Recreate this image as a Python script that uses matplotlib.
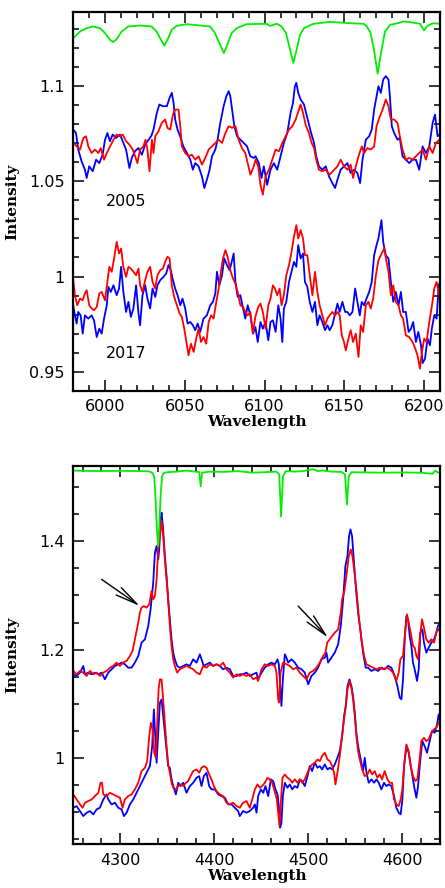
import matplotlib
matplotlib.use('Agg')
import matplotlib.pyplot as plt
from matplotlib.ticker import MultipleLocator, FormatStrFormatter

# ---------------- red region, 5980-6210 A ----------------
tell_red = [(5980, 1.1253), (5984.2, 1.1287), (5988.4, 1.1305), (5992.5, 1.1314), (5996.7, 1.1305),
            (5999.9, 1.1279), (6003, 1.1244), (6005.1, 1.1232), (6007.2, 1.1247), (6010.3, 1.1287),
            (6014.5, 1.1314), (6021.8, 1.1319), (6029.1, 1.1314), (6032.3, 1.1287), (6034.4, 1.1253),
            (6037.1, 1.1213), (6039.6, 1.1253), (6041.7, 1.1296), (6044.8, 1.1317), (6051.1, 1.1326),
            (6065.7, 1.1314), (6068.9, 1.1279), (6071.6, 1.1226), (6074.5, 1.1174), (6076.6, 1.1218),
            (6079.3, 1.1279), (6082.5, 1.1305), (6088.7, 1.1326), (6101.3, 1.1328), (6103.4, 1.1317),
            (6107.6, 1.1328), (6110.7, 1.1314), (6113.4, 1.1279), (6115.5, 1.1209), (6118, 1.1122),
            (6120.1, 1.1192), (6122.2, 1.127), (6124.7, 1.1305), (6130.6, 1.1328), (6141, 1.1338),
            (6153.6, 1.1331), (6161.9, 1.1328), (6164, 1.1317), (6166.5, 1.1279), (6168.6, 1.1192),
            (6170.9, 1.1066), (6173, 1.1174), (6175.5, 1.1287), (6178.6, 1.1322), (6184.9, 1.1334),
            (6187, 1.1341), (6193.3, 1.1334), (6197.5, 1.1328), (6200, 1.1293), (6202.1, 1.1317),
            (6205.8, 1.1331), (6210, 1.1328)]

blue_2005 = [(5980, 1.0772), (5981.7, 1.0754), (5983.1, 1.0667), (5985.2, 1.0605), (5987.3, 1.0561),
             (5988.4, 1.0518), (5990, 1.0579), (5992.2, 1.0553), (5994.3, 1.0614), (5996.3, 1.0596),
             (5998.4, 1.064), (5999.9, 1.0719), (6001.4, 1.0754), (6003, 1.0711), (6004.7, 1.0746),
             (6006.8, 1.0728), (6009.3, 1.0746), (6011.4, 1.0702), (6013.1, 1.0667), (6015.2, 1.0570),
             (6016.7, 1.0623), (6018.8, 1.066), (6020.9, 1.0675), (6023, 1.064), (6025.1, 1.0693),
             (6027.3, 1.0719), (6029, 1.074), (6030.3, 1.0772), (6032.4, 1.086), (6034, 1.0904),
             (6036.1, 1.0895), (6038.7, 1.0895), (6040.4, 1.0939), (6041.8, 1.0965), (6042.9, 1.0912),
             (6043.9, 1.0825), (6045.4, 1.0772), (6047, 1.0737), (6049, 1.0684), (6051.3, 1.0649),
             (6053.4, 1.0614), (6055, 1.0561), (6056.5, 1.0596), (6058.6, 1.0579), (6060.7, 1.0526),
             (6062.2, 1.0465), (6063.8, 1.0509), (6065.5, 1.0561), (6067, 1.0632), (6069.1, 1.0667),
             (6070.5, 1.0719), (6072.2, 1.0807), (6074.3, 1.0895), (6076, 1.0947), (6077.5, 1.0974),
             (6078.5, 1.0947), (6079.6, 1.0877), (6081, 1.079), (6082.7, 1.0737), (6084.8, 1.0719),
             (6086.9, 1.0702), (6089, 1.0684), (6091, 1.0632), (6093.2, 1.0623), (6094.3, 1.0632),
             (6096.4, 1.0596), (6098.1, 1.0518), (6099.5, 1.0579), (6101.6, 1.0482), (6103.7, 1.0561),
             (6105.8, 1.0596), (6107.9, 1.0561), (6110, 1.0632), (6112.1, 1.0702), (6114.2, 1.0754),
             (6116.3, 1.086), (6117.8, 1.0912), (6119, 1.1), (6119.9, 1.1018), (6121.1, 1.0965),
             (6122.6, 1.093), (6124.7, 1.0904), (6126.8, 1.0833), (6128.9, 1.0763), (6131, 1.0702),
             (6132.4, 1.0632), (6134.1, 1.0579), (6136.2, 1.0561), (6138.3, 1.0579), (6140.4, 1.0526),
             (6142.5, 1.0491), (6144.2, 1.0465), (6145.7, 1.0509), (6147.7, 1.0561), (6149.8, 1.0579),
             (6151.9, 1.0596), (6154, 1.0544), (6156.1, 1.0561), (6158.2, 1.0544), (6159.9, 1.0491),
             (6161.4, 1.0614), (6163.5, 1.0719), (6165.6, 1.0737), (6167.2, 1.0772), (6168.7, 1.0877),
             (6170.2, 1.0947), (6171.4, 1.1), (6172.9, 1.0965), (6174.4, 1.1035), (6176, 1.1053),
             (6177.7, 1.1035), (6178.6, 1.0947), (6179.8, 1.0789), (6181.3, 1.0754), (6183.4, 1.0719),
             (6184.8, 1.0728), (6186.5, 1.0632), (6188.6, 1.0614), (6190.7, 1.0596), (6192.8, 1.0614),
             (6194.9, 1.0614), (6197, 1.0561), (6199.1, 1.0684), (6201.2, 1.0649), (6203.3, 1.0684),
             (6205.4, 1.0807), (6206.9, 1.0851), (6208.5, 1.0737), (6210.6, 1.0754)]

red_2005 = [(5980, 1.0702), (5982.1, 1.0684), (5984.2, 1.0667), (5986.3, 1.0728), (5988, 1.0737),
            (5989.4, 1.0684), (5991.5, 1.0649), (5993.6, 1.0667), (5995.7, 1.0649), (5997.2, 1.0675),
            (5999.3, 1.0614), (6001, 1.0649), (6003.1, 1.0684), (6005.2, 1.0719), (6007.2, 1.0746),
            (6009.3, 1.0737), (6011, 1.0746), (6013.1, 1.0711), (6015.2, 1.0693), (6017.3, 1.0667),
            (6018.8, 1.0632), (6020.2, 1.0596), (6021.9, 1.0667), (6024, 1.0684), (6025.3, 1.0719),
            (6026.5, 1.0667), (6027.8, 1.0553), (6029.3, 1.0719), (6030.3, 1.0649), (6031.4, 1.0737),
            (6033.4, 1.0763), (6035.5, 1.0807), (6037.6, 1.0825), (6039.1, 1.0781), (6040.8, 1.0772),
            (6042.5, 1.0851), (6043.9, 1.0877), (6046, 1.0877), (6047.1, 1.079), (6048.1, 1.0684),
            (6050.2, 1.0649), (6052.3, 1.0632), (6054.4, 1.064), (6056.5, 1.0614), (6058.6, 1.0632),
            (6060.7, 1.0588), (6062.8, 1.0623), (6064.9, 1.0667), (6067, 1.0684), (6069.1, 1.0702),
            (6071.2, 1.0719), (6073.3, 1.0702), (6075.4, 1.0754), (6077.5, 1.079), (6079.6, 1.0781),
            (6081.7, 1.079), (6083.7, 1.0719), (6085.8, 1.0675), (6087.9, 1.0649), (6089.4, 1.0596),
            (6091.1, 1.0535), (6093.2, 1.0579), (6094.3, 1.0614), (6096, 1.0579), (6097.4, 1.0482),
            (6098.9, 1.043), (6100.6, 1.0526), (6102.7, 1.0561), (6104.8, 1.0614), (6106.9, 1.0667),
            (6109, 1.0658), (6111.1, 1.0702), (6113.2, 1.0737), (6115.3, 1.0772), (6117.4, 1.079),
            (6119.5, 1.0825), (6121.5, 1.0877), (6122.6, 1.0904), (6124.1, 1.086), (6125.7, 1.0798),
            (6127.8, 1.0754), (6129.5, 1.0702), (6131, 1.0675), (6132.4, 1.0614), (6134.1, 1.0561),
            (6136.2, 1.0553), (6138.3, 1.0561), (6140.8, 1.0535), (6143.6, 1.0561), (6145.7, 1.0579),
            (6147.7, 1.0614), (6149.8, 1.0579), (6151.9, 1.0561), (6154, 1.0588), (6155.5, 1.0518),
            (6157.2, 1.0579), (6158.9, 1.0632), (6161, 1.0684), (6162.4, 1.0649), (6164.5, 1.0675),
            (6166.6, 1.0667), (6168.7, 1.0684), (6170.2, 1.0789), (6171.9, 1.0833), (6174, 1.0877),
            (6176, 1.093), (6177.7, 1.0895), (6179.2, 1.0825), (6181.3, 1.0825), (6183.4, 1.0807),
            (6184.8, 1.0737), (6186.5, 1.0667), (6188.6, 1.0614), (6190.7, 1.0623), (6192.8, 1.0614),
            (6194.9, 1.0632), (6197, 1.0649), (6199.1, 1.0667), (6201.2, 1.0614), (6203.3, 1.0684),
            (6205.4, 1.0649), (6207.5, 1.0702), (6209.6, 1.0719)]

blue_2017 = [(5980, 0.9849), (5981, 0.9796), (5982.1, 0.9753), (5983.1, 0.9814), (5984.6, 0.9796),
             (5985.9, 0.97), (5987.3, 0.9796), (5989.4, 0.9779), (5991.5, 0.9796), (5993, 0.977),
             (5994.7, 0.9682), (5996.3, 0.9726), (5997.8, 0.97), (5999.3, 0.9779), (6001, 0.9849),
             (6002, 0.9946), (6003.5, 0.9919), (6005.2, 0.9954), (6007.2, 0.9902), (6008.7, 0.9937),
             (6010, 1.0051), (6011.4, 0.9919), (6013.1, 0.9814), (6014.6, 0.9867), (6016.1, 0.9788),
             (6017.7, 0.9832), (6019.4, 0.9954), (6020.9, 0.9805), (6021.9, 0.9744), (6023.4, 0.9902),
             (6025.1, 0.9954), (6026.5, 0.9884), (6028.2, 0.9832), (6029.7, 0.9937), (6031.4, 0.9893),
             (6032.8, 0.9954), (6034.5, 0.9981), (6036.6, 0.9998), (6038.3, 1.0016), (6039.7, 1.006),
             (6041.2, 1.0033), (6042.5, 0.9981), (6043.9, 0.9937), (6045.4, 0.9902), (6047.1, 0.9849),
             (6048.5, 0.9884), (6050.2, 0.9832), (6051.7, 0.9753), (6053.4, 0.9761), (6055, 0.9744),
             (6056.5, 0.9718), (6058, 0.9753), (6059.6, 0.9709), (6061.7, 0.9779), (6063.8, 0.9796),
             (6065.9, 0.9849), (6067.6, 0.9867), (6069.1, 0.9911), (6070.1, 1.0025), (6071.6, 0.9954),
             (6073.3, 1.0007), (6074.7, 1.0095), (6076.4, 1.006), (6078.1, 1.0033), (6079.6, 1.0086),
             (6080.6, 1.0121), (6081.7, 0.9972), (6083.1, 0.9893), (6084.8, 0.9902), (6086.5, 0.9832),
             (6087.9, 0.9779), (6089.4, 0.9849), (6091.1, 0.9796), (6092.8, 0.97), (6094.2, 0.9735),
             (6095.7, 0.9656), (6097.4, 0.9761), (6098.9, 0.9726), (6100.6, 0.9761), (6102.3, 0.9665),
             (6103.7, 0.9761), (6105.2, 0.977), (6106.9, 0.9709), (6108.6, 0.9849), (6110, 0.9779),
             (6111.1, 0.9656), (6112.1, 0.9832), (6113.6, 0.9867), (6115.3, 0.9972), (6116.9, 1.0025),
             (6118.4, 1.0077), (6119.9, 1.0051), (6121.1, 1.0165), (6122.6, 1.0095), (6124.1, 1.0121),
             (6125.3, 0.9972), (6126.8, 0.9946), (6128.3, 0.9867), (6130, 0.9814), (6131.6, 0.9867),
             (6133.1, 0.9744), (6134.5, 0.9796), (6136.2, 0.9761), (6137.9, 0.9718), (6139.4, 0.9744),
             (6140.8, 0.9718), (6142.5, 0.9744), (6144.2, 0.9805), (6145.7, 0.9858), (6147.1, 0.9814),
             (6148.8, 0.9867), (6150.5, 0.9814), (6151.9, 0.9814), (6153.4, 0.9796), (6155.1, 0.9814),
             (6156.8, 0.9937), (6158.2, 0.9867), (6159.7, 0.9796), (6160.9, 0.9867), (6162.4, 0.9849),
             (6163.9, 0.9884), (6165.6, 0.9919), (6167.2, 0.9972), (6168.7, 1.0112), (6170.2, 1.0165),
             (6171.4, 1.02), (6172.3, 1.0244), (6173.3, 1.0296), (6174.4, 1.0182), (6176, 1.0112),
             (6177.7, 1.0095), (6179.2, 0.9972), (6180.7, 0.9867), (6182.3, 0.9919), (6184, 0.9849),
             (6185.5, 0.9919), (6186.9, 0.9814), (6188.6, 0.9814), (6190.3, 0.9709), (6191.8, 0.9726),
             (6193.2, 0.9761), (6194.9, 0.9656), (6196.4, 0.9709), (6198.1, 0.9639), (6199.1, 0.9545),
             (6200.6, 0.9568), (6202.2, 0.9674), (6203.7, 0.9639), (6204.9, 0.9726), (6206.4, 0.9796),
             (6207.9, 0.9779), (6209.2, 0.9954), (6210.6, 0.9981)]

red_2017 = [(5980, 0.9981), (5981, 0.9902), (5982.5, 0.9849), (5984.2, 0.9884), (5985.9, 0.9875),
            (5987.3, 0.9911), (5988.4, 0.9928), (5990, 0.9849), (5991.5, 0.9832), (5993, 0.9823),
            (5994.7, 0.984), (5996.3, 0.9911), (5997.8, 0.9919), (5999.9, 0.9875), (6001.4, 0.9972),
            (6002.6, 1.0051), (6004.1, 1.0025), (6005.6, 1.0095), (6007.2, 1.0182), (6008.7, 1.0121),
            (6010, 1.0147), (6011.4, 1.0051), (6013.1, 0.9998), (6014.6, 1.0051), (6016.1, 1.0042),
            (6017.7, 1.0025), (6019.4, 1.0007), (6020.9, 1.0042), (6021.9, 0.9954), (6023.4, 0.9919),
            (6025.1, 0.9981), (6026.5, 1.0025), (6028.2, 1.0051), (6029.7, 0.9972), (6031.4, 0.9937),
            (6032.8, 1.0007), (6034.5, 1.0033), (6036.2, 1.0042), (6037.6, 1.0077), (6039.1, 1.0104),
            (6040.4, 1.0095), (6041.8, 0.9954), (6043.3, 0.9893), (6045, 0.9849), (6046.7, 0.9805),
            (6048.1, 0.9788), (6049.6, 0.9726), (6051.3, 0.9639), (6052.3, 0.9586), (6053.8, 0.9647),
            (6055.5, 0.9604), (6057.1, 0.9674), (6058.6, 0.9726), (6060.1, 0.9656), (6061.7, 0.9682),
            (6063.4, 0.9647), (6064.9, 0.9761), (6066.4, 0.9796), (6068, 0.9779), (6069.7, 0.9867),
            (6071.2, 0.9937), (6072.6, 1.0025), (6073.9, 1.0095), (6075.4, 1.0139), (6076.8, 1.0104),
            (6078.5, 1.0033), (6080.2, 0.9989), (6081.7, 0.9963), (6083.1, 0.9919), (6084.8, 0.9849),
            (6086.5, 0.984), (6087.9, 0.9814), (6089.4, 0.9796), (6091.1, 0.9814), (6092.6, 0.97),
            (6094.2, 0.9788), (6096, 0.984), (6097.4, 0.9858), (6098.9, 0.9814), (6100.6, 0.9726),
            (6102.3, 0.9849), (6103.7, 0.9884), (6105.2, 0.9954), (6106.5, 0.9937), (6107.9, 0.9902),
            (6109.4, 0.9937), (6110.6, 0.9849), (6112.1, 0.9902), (6113.6, 1.0007), (6115.3, 1.006),
            (6116.9, 1.013), (6118.4, 1.0209), (6119.9, 1.027), (6121.1, 1.02), (6122.6, 1.0244),
            (6124.1, 1.02), (6125.3, 1.0112), (6126.8, 1.0112), (6128.3, 1.0007), (6130, 0.9902),
            (6131.6, 1.0025), (6133.1, 0.9919), (6134.5, 0.9849), (6136.2, 0.9796), (6137.9, 0.9744),
            (6139.4, 0.9779), (6140.8, 0.9796), (6142.5, 0.9814), (6144.2, 0.9796), (6145.7, 0.9814),
            (6147.1, 0.9796), (6148.4, 0.9691), (6149.8, 0.9656), (6150.9, 0.9612), (6152.6, 0.9674),
            (6154, 0.9718), (6155.5, 0.9656), (6157.2, 0.97), (6158.9, 0.9577), (6160.3, 0.9744),
            (6161.8, 0.9709), (6163.5, 0.9849), (6165.1, 0.9867), (6166.6, 0.9832), (6168.1, 0.9884),
            (6169.8, 1.0007), (6171.4, 1.0086), (6172.9, 1.0112), (6175, 1.0147), (6176.5, 1.0077),
            (6177.7, 1.0025), (6179.2, 0.9902), (6180.7, 0.9954), (6182.3, 0.9867), (6184, 0.9849),
            (6185.5, 0.9796), (6186.9, 0.9779), (6188.6, 0.9691), (6190.7, 0.9682), (6192.8, 0.9656),
            (6194.5, 0.9621), (6195.9, 0.9586), (6197.4, 0.9516), (6198.7, 0.9604), (6200.1, 0.9674),
            (6201.6, 0.9656), (6203.3, 0.9761), (6205, 0.9849), (6206.4, 0.9937), (6207.9, 0.9972),
            (6209.2, 0.9919), (6210.6, 0.9814)]

# ---------------- blue region, 4250-4640 A ----------------
tell_blue = [(4250, 1.531), (4260, 1.5305), (4280, 1.530), (4300, 1.5305), (4320, 1.530),
             (4330, 1.5295), (4334, 1.527), (4336, 1.52), (4337.5, 1.48), (4339, 1.42),
             (4340.3, 1.391), (4341.5, 1.43), (4343, 1.49), (4344.5, 1.52), (4346, 1.526),
             (4350, 1.528), (4360, 1.529), (4370, 1.531), (4380, 1.529), (4384, 1.528),
             (4385.5, 1.502), (4387, 1.527), (4395, 1.529), (4410, 1.5285), (4425, 1.530),
             (4440, 1.527), (4455, 1.528), (4466, 1.529), (4469, 1.524), (4471, 1.446),
             (4473, 1.52), (4476, 1.530), (4485, 1.529), (4495, 1.530), (4500, 1.532),
             (4505, 1.5335), (4510, 1.530), (4515, 1.531), (4525, 1.529), (4535, 1.5285),
             (4539, 1.524), (4541, 1.468), (4543, 1.52), (4546, 1.528), (4560, 1.5275),
             (4580, 1.527), (4600, 1.5275), (4620, 1.527), (4632, 1.525), (4635, 1.531),
             (4638, 1.527), (4640, 1.528)]

blue_hi = [(4250, 1.1543), (4253.5, 1.1512), (4257.1, 1.1574), (4260.6, 1.1697), (4262.4, 1.1543),
           (4265.9, 1.1574), (4269.5, 1.1543), (4273, 1.1574), (4276.6, 1.1543), (4280.1, 1.1574),
           (4283.6, 1.1451), (4287.2, 1.1574), (4290.7, 1.1636), (4294.3, 1.1697), (4297.8, 1.1728),
           (4301.4, 1.1759), (4304.9, 1.1728), (4308.4, 1.1666), (4312, 1.1666), (4315.5, 1.1759),
           (4319.1, 1.1882), (4322.6, 1.2128), (4326.2, 1.219), (4329.7, 1.2436), (4332.2, 1.2744),
           (4335, 1.3236), (4336.8, 1.3791), (4338.6, 1.3914), (4340.3, 1.3667), (4341.4, 1.3852),
           (4342.8, 1.4406), (4343.9, 1.453), (4345.6, 1.4222), (4347.4, 1.3729), (4349.2, 1.336),
           (4350.9, 1.2929), (4352.7, 1.2559), (4354.5, 1.219), (4356.3, 1.1943), (4358, 1.182),
           (4360.5, 1.1697), (4363.3, 1.1666), (4366.9, 1.1697), (4370.4, 1.1728), (4374, 1.1697),
           (4377.5, 1.182), (4381.1, 1.1759), (4384.6, 1.1913), (4386.4, 1.182), (4388.8, 1.1697),
           (4391.7, 1.1728), (4395.2, 1.1759), (4398.8, 1.1697), (4402.3, 1.1728), (4405.8, 1.1697),
           (4409.4, 1.1636), (4412.9, 1.1666), (4416.5, 1.1636), (4420, 1.1512), (4423.6, 1.1512),
           (4427.1, 1.1543), (4430.6, 1.1543), (4434.2, 1.1574), (4437.7, 1.1512), (4441.3, 1.1543),
           (4444.8, 1.1574), (4446.6, 1.1451), (4450.2, 1.1574), (4453.7, 1.1666), (4457.3, 1.1728),
           (4460.8, 1.1759), (4464.4, 1.1728), (4467.2, 1.182), (4468.6, 1.1728), (4470, 1.1328),
           (4471.4, 1.0958), (4472.9, 1.1451), (4475, 1.1913), (4476.7, 1.1851), (4478.5, 1.1759),
           (4482.1, 1.182), (4485.6, 1.1759), (4489.1, 1.1666), (4492.7, 1.1636), (4496.2, 1.1574),
           (4499.8, 1.1358), (4503.3, 1.1512), (4506.9, 1.1574), (4510.4, 1.1666), (4513.9, 1.182),
           (4517.5, 1.1851), (4519.3, 1.1943), (4521, 1.1759), (4524.6, 1.1851), (4528.1, 1.1943),
           (4531.7, 1.2097), (4534.5, 1.2436), (4537, 1.2929), (4539.4, 1.3544), (4541.6, 1.3729),
           (4543.3, 1.4099), (4544.8, 1.4222), (4546.5, 1.4099), (4548.3, 1.3667), (4550.4, 1.3175),
           (4552.9, 1.2682), (4555.7, 1.2313), (4558.2, 1.1943), (4561, 1.1666), (4563.5, 1.1666),
           (4567.1, 1.1605), (4570.6, 1.1636), (4574.2, 1.1605), (4577.7, 1.1666), (4581.2, 1.1636),
           (4584.8, 1.1697), (4588.3, 1.1666), (4591.9, 1.1512), (4594.7, 1.1328), (4597.2, 1.1112),
           (4599, 1.1081), (4600.7, 1.1451), (4602.5, 1.219), (4604.3, 1.2621), (4606, 1.256),
           (4607.8, 1.2251), (4609.6, 1.2067), (4611.3, 1.1759), (4613.1, 1.1636), (4615.6, 1.142),
           (4617.4, 1.1636), (4619.1, 1.2313), (4621.3, 1.2374), (4623, 1.2128), (4625.5, 1.1943),
           (4628, 1.2036), (4630.8, 1.2128), (4633.7, 1.219), (4636.1, 1.2313), (4637.9, 1.2436),
           (4639.7, 1.2498)]

red_hi = [(4250, 1.1605), (4253.5, 1.1543), (4257.1, 1.1605), (4260.6, 1.1574), (4264.2, 1.1512),
          (4267.7, 1.1605), (4271.3, 1.1543), (4274.8, 1.1574), (4278.3, 1.1512), (4281.9, 1.1574),
          (4285.4, 1.1605), (4289, 1.1666), (4292.5, 1.1697), (4296, 1.1759), (4299.6, 1.1697),
          (4303.1, 1.1759), (4306.7, 1.179), (4310.2, 1.1882), (4313, 1.1974), (4315.5, 1.219),
          (4317.3, 1.2344), (4319.1, 1.2498), (4320.8, 1.2682), (4322.6, 1.2775), (4325.1, 1.2805),
          (4327.9, 1.2775), (4330.8, 1.2836), (4333.2, 1.3083), (4335, 1.2929), (4336.8, 1.299),
          (4338.6, 1.3298), (4340.3, 1.3852), (4342.1, 1.4099), (4343.9, 1.4376), (4345.6, 1.4099),
          (4347.4, 1.3667), (4349.2, 1.3298), (4350.9, 1.2929), (4352.7, 1.2436), (4354.5, 1.2067),
          (4356.3, 1.182), (4358, 1.1697), (4360.5, 1.1574), (4363.3, 1.1636), (4366.9, 1.1666),
          (4370.4, 1.1697), (4374, 1.1666), (4377.5, 1.1636), (4381.1, 1.1574), (4384.6, 1.1543),
          (4388.1, 1.1697), (4391.7, 1.1666), (4395.2, 1.1728), (4398.8, 1.1697), (4402.3, 1.1728),
          (4405.8, 1.1697), (4409.4, 1.1759), (4412.9, 1.1636), (4416.5, 1.1574), (4420, 1.1482),
          (4423.6, 1.1543), (4427.1, 1.1512), (4430.6, 1.1543), (4434.2, 1.1512), (4437.7, 1.1543),
          (4441.3, 1.1451), (4444.8, 1.1482), (4446.6, 1.142), (4450.2, 1.1636), (4453.7, 1.1728),
          (4457.3, 1.1697), (4460.8, 1.1728), (4464.4, 1.1697), (4466.1, 1.1574), (4467.9, 1.1081),
          (4469, 1.102), (4470.4, 1.1574), (4473.2, 1.1759), (4476.7, 1.1728), (4480.3, 1.1697),
          (4483.8, 1.1636), (4487.4, 1.1666), (4490.9, 1.1574), (4494.5, 1.1512), (4498, 1.1451),
          (4501.5, 1.1574), (4505.1, 1.1605), (4508.6, 1.1666), (4512.2, 1.1759), (4515.7, 1.1882),
          (4518.2, 1.1943), (4520, 1.2128), (4522.8, 1.219), (4525.3, 1.2251), (4528.1, 1.2313),
          (4531.7, 1.2374), (4534.5, 1.2682), (4535.9, 1.2929), (4538, 1.3052), (4540.5, 1.336),
          (4543, 1.3729), (4545.1, 1.3852), (4546.9, 1.3729), (4548.7, 1.3483), (4551.1, 1.3113),
          (4553.6, 1.2621), (4556.4, 1.219), (4559.3, 1.1882), (4561.8, 1.1728), (4565.3, 1.1697),
          (4568.8, 1.1666), (4572.4, 1.1636), (4575.9, 1.1666), (4579.5, 1.1636), (4583, 1.1666),
          (4586.6, 1.1636), (4590.1, 1.1574), (4593.6, 1.142), (4596.1, 1.1574), (4597.9, 1.182),
          (4600.7, 1.1882), (4603.2, 1.2374), (4605, 1.2651), (4606.7, 1.2498), (4608.9, 1.2313),
          (4611.3, 1.2067), (4613.1, 1.2036), (4614.9, 1.1882), (4616.7, 1.182), (4618.4, 1.219),
          (4620.9, 1.256), (4623, 1.2405), (4625.5, 1.219), (4628, 1.2128), (4630.8, 1.219),
          (4633.7, 1.2128), (4636.1, 1.2313), (4637.9, 1.2374), (4639.7, 1.2344)]

blue_lo = [(4250, 0.9076), (4253.5, 0.9107), (4257.1, 0.9015), (4260.6, 0.8922), (4264.2, 0.8984),
           (4267.7, 0.9015), (4271.3, 0.8953), (4274.8, 0.9046), (4278.3, 0.9076), (4281.9, 0.923),
           (4285.4, 0.9323), (4287.2, 0.923), (4290.7, 0.9138), (4294.3, 0.9169), (4297.8, 0.9076),
           (4301.4, 0.9046), (4303.8, 0.8922), (4306.7, 0.8984), (4310.2, 0.9138), (4313.8, 0.923),
           (4317.3, 0.9353), (4320.8, 0.9477), (4324.4, 0.96), (4327.9, 0.9723), (4331.5, 0.9846),
           (4333.9, 1.0216), (4335.7, 1.0893), (4337.1, 1.04), (4338.6, 0.9908), (4340.3, 1.0462),
           (4342.1, 1.1016), (4343.9, 1.1078), (4345.6, 1.077), (4347.4, 1.0462), (4349.2, 1.0154),
           (4350.9, 0.9846), (4352.7, 0.9815), (4354.5, 0.96), (4356.3, 0.9477), (4359.1, 0.9323),
           (4361.6, 0.9538), (4364, 0.9477), (4366.9, 0.9538), (4370.4, 0.9353), (4374, 0.9477),
           (4377.5, 0.9538), (4381.1, 0.9631), (4383.9, 0.9661), (4386.4, 0.9477), (4388.8, 0.9661),
           (4391.7, 0.9723), (4394.5, 0.9477), (4397, 0.9415), (4400.5, 0.9415), (4404.1, 0.9323),
           (4407.6, 0.9292), (4411.2, 0.9261), (4414.7, 0.9138), (4418.2, 0.9138), (4421.8, 0.9076),
           (4425.3, 0.9015), (4427.1, 0.8922), (4430.6, 0.9015), (4434.2, 0.8984), (4437.7, 0.9015),
           (4441.3, 0.9076), (4443.1, 0.9138), (4444.9, 0.8984), (4446.6, 0.9292), (4449.5, 0.9415),
           (4452, 0.9353), (4454.4, 0.9477), (4457.3, 0.9292), (4460.1, 0.96), (4462.6, 0.9569),
           (4465.1, 0.9415), (4467.2, 0.9323), (4468.6, 0.9107), (4470, 0.8707), (4471.4, 0.8799),
           (4472.9, 0.9292), (4475, 0.9538), (4477.8, 0.9446), (4480.3, 0.9507), (4482.8, 0.9415),
           (4485.6, 0.9477), (4488.4, 0.9446), (4490.9, 0.96), (4493.4, 0.9569), (4496.2, 0.9477),
           (4499.1, 0.9661), (4501.5, 0.9846), (4504, 0.9754), (4506.9, 0.9908), (4509.7, 0.9815),
           (4512.2, 0.9846), (4514.6, 0.9784), (4517.5, 0.9877), (4520.3, 0.9784), (4522.8, 0.9815),
           (4525.3, 0.9784), (4528.1, 0.9877), (4530.9, 1.0), (4533.4, 1.0123), (4535.9, 1.04),
           (4538, 1.077), (4539.8, 1.0954), (4541.6, 1.1324), (4543.7, 1.1447), (4545.8, 1.1324),
           (4547.6, 1.1139), (4549.4, 1.0831), (4551.1, 1.0462), (4552.9, 1.0216), (4554.7, 1.0062),
           (4556.4, 0.9908), (4558.2, 0.9754), (4560, 1.0), (4561.8, 0.9723), (4564.2, 0.9538),
           (4567.1, 0.96), (4569.9, 0.9538), (4572.4, 0.96), (4574.9, 0.9538), (4577.7, 0.9415),
           (4580.5, 0.9538), (4583, 0.9477), (4585.5, 0.9507), (4588.3, 0.9477), (4591.2, 0.9292),
           (4593.6, 0.9076), (4596.1, 0.8984), (4598.2, 0.8953), (4600, 0.923), (4601.8, 0.9846),
           (4604.3, 1.0216), (4606.7, 1.0092), (4608.9, 0.9846), (4611.3, 0.96), (4613.1, 0.9415),
           (4614.9, 0.9261), (4616.7, 0.9477), (4619.1, 0.9969), (4621.3, 1.0308), (4623.7, 1.0216),
           (4626.2, 1.0092), (4629.1, 1.0308), (4631.5, 1.0493), (4634.4, 1.0462), (4636.9, 1.0616),
           (4638.6, 1.08), (4639.7, 1.0708)]

red_lo = [(4250, 0.9323), (4253.5, 0.923), (4257.1, 0.9138), (4259.9, 0.9076), (4262.4, 0.9169),
          (4265.9, 0.92), (4269.5, 0.923), (4273, 0.9292), (4276.6, 0.9353), (4279, 0.9538),
          (4280.5, 0.9538), (4281.9, 0.9323), (4285.4, 0.9292), (4289, 0.9353), (4292.5, 0.9323),
          (4296, 0.9292), (4299.6, 0.9261), (4302.4, 0.9076), (4304.9, 0.923), (4308.4, 0.9292),
          (4312, 0.9323), (4315.5, 0.9415), (4319.1, 0.9538), (4322.6, 0.9754), (4326.2, 0.9815),
          (4328.6, 0.9938), (4330.8, 1.04), (4332.5, 1.0647), (4334.3, 1.0523), (4336.1, 1.0092),
          (4337.8, 1.0), (4339.3, 1.0647), (4340.7, 1.1262), (4342.1, 1.1447), (4343.9, 1.1447),
          (4345.6, 1.1078), (4347.4, 1.0647), (4349.2, 1.0216), (4350.9, 0.9877), (4352.7, 0.9723),
          (4354.5, 0.9538), (4356.3, 0.9446), (4359.1, 0.9415), (4361.6, 0.9477), (4364, 0.9507),
          (4366.9, 0.9477), (4369.7, 0.9538), (4372.2, 0.9569), (4374.7, 0.9661), (4377.5, 0.9754),
          (4381.1, 0.9784), (4383.9, 0.9723), (4386.4, 0.9815), (4388.8, 0.9846), (4391.7, 0.9815),
          (4394.5, 0.9692), (4397, 0.96), (4399.5, 0.9477), (4402.3, 0.9384), (4405.8, 0.9323),
          (4409.4, 0.9292), (4412.9, 0.9169), (4416.5, 0.9138), (4420, 0.9169), (4423.6, 0.9107),
          (4427.1, 0.9076), (4430.6, 0.9169), (4434.2, 0.92), (4437.7, 0.9076), (4441.3, 0.9292),
          (4443.1, 0.9415), (4445.9, 0.9507), (4448.4, 0.9446), (4450.9, 0.9477), (4453.7, 0.9538),
          (4456.6, 0.9631), (4459, 0.96), (4461.5, 0.9538), (4463.6, 0.9415), (4465.1, 0.9323),
          (4466.5, 0.923), (4467.9, 0.8984), (4469.3, 0.8738), (4470.7, 0.9169), (4472.5, 0.9631),
          (4475, 0.9692), (4477.8, 0.9631), (4480.3, 0.96), (4482.8, 0.9538), (4485.6, 0.96),
          (4488.4, 0.9538), (4490.9, 0.96), (4493.4, 0.9538), (4496.2, 0.96), (4499.1, 0.9723),
          (4501.5, 0.9815), (4504, 0.9877), (4506.9, 0.9908), (4509.7, 0.9969), (4512.2, 0.9938),
          (4514.6, 1.0031), (4517.5, 1.0092), (4520.3, 0.9969), (4522.8, 0.9938), (4525.3, 0.9846),
          (4527.4, 0.9723), (4528.8, 0.9507), (4530.9, 0.9723), (4533.4, 1.0031), (4535.9, 1.04),
          (4538, 1.0708), (4539.8, 1.0954), (4541.6, 1.1262), (4543.7, 1.1416), (4545.8, 1.1293),
          (4547.6, 1.1078), (4549.4, 1.077), (4551.1, 1.04), (4552.9, 1.0123), (4554.7, 0.9969),
          (4557.2, 0.9784), (4560, 0.9661), (4562.8, 0.9692), (4565.3, 0.9784), (4567.8, 0.9692),
          (4570.6, 0.9754), (4573.4, 0.9631), (4575.9, 0.9692), (4578.4, 0.96), (4581.2, 0.9754),
          (4584.1, 0.96), (4586.6, 0.9538), (4589, 0.9538), (4591.2, 0.923), (4593.6, 0.9138),
          (4596.1, 0.9107), (4598.2, 0.923), (4600, 0.9415), (4601.8, 0.9846), (4604.3, 1.0246),
          (4606.7, 1.0123), (4608.9, 0.9846), (4611.3, 0.9661), (4613.8, 0.9569), (4615.9, 0.96),
          (4618.4, 0.9969), (4620.2, 1.0308), (4623, 1.0369), (4625.5, 1.0308), (4628, 1.0339),
          (4630.8, 1.0462), (4633.3, 1.0523), (4636.1, 1.0554), (4638.6, 1.0647), (4639.7, 1.0677)]

# arrows marking the blue wings: (tail, head)
arrows = [((4280.1, 1.3298), (4320.8, 1.2805)),
          ((4489.1, 1.2805), (4521.0, 1.2220))]

BLUE = '#0000ff'
RED = '#ff0000'
GREEN = '#00ee00'
LW = 1.3

plt.rcParams['font.family'] = 'DejaVu Sans'
fig = plt.figure(figsize=(4.45, 8.88), dpi=100)
ax1 = fig.add_axes([0.1647, 0.560, 0.824, 0.4265])
ax2 = fig.add_axes([0.1647, 0.0492, 0.824, 0.4264])


def curve(ax, pts, color):
    x, y = zip(*pts)
    ax.plot(x, y, color=color, lw=LW, solid_joinstyle='round')


for pts, c in [(blue_2005, BLUE), (red_2005, RED), (blue_2017, BLUE), (red_2017, RED), (tell_red, GREEN)]:
    curve(ax1, pts, c)
for pts, c in [(blue_hi, BLUE), (red_hi, RED), (blue_lo, BLUE), (red_lo, RED), (tell_blue, GREEN)]:
    curve(ax2, pts, c)

ax1.text(6013, 1.0395, '2005', fontsize=11.5, ha='center', va='center')
ax1.text(6013, 0.9597, '2017', fontsize=11.5, ha='center', va='center')

for tail, head in arrows:
    ax2.annotate('', xy=head, xytext=tail,
                 arrowprops=dict(arrowstyle='->,head_length=1.6,head_width=0.32',
                                 color='black', lw=1.0, shrinkA=0, shrinkB=0,
                                 mutation_scale=10))

ax1.set_xlim(5980, 6210)
ax1.set_ylim(0.94, 1.139)
ax1.xaxis.set_major_locator(MultipleLocator(50))
ax1.xaxis.set_minor_locator(MultipleLocator(10))
ax1.yaxis.set_major_locator(MultipleLocator(0.05))
ax1.yaxis.set_minor_locator(MultipleLocator(0.01))

ax2.set_xlim(4250, 4640)
ax2.set_ylim(0.84, 1.54)
ax2.xaxis.set_major_locator(MultipleLocator(100))
ax2.xaxis.set_minor_locator(MultipleLocator(20))
ax2.yaxis.set_major_locator(MultipleLocator(0.2))
ax2.yaxis.set_minor_locator(MultipleLocator(0.05))

for ax in (ax1, ax2):
    ax.yaxis.set_major_formatter(FormatStrFormatter('%g'))
    ax.tick_params(which='both', direction='in', top=True, right=True, width=1.1,
                   labelsize=11.5, colors='black')
    ax.tick_params(which='major', length=8, pad=6)
    ax.tick_params(which='minor', length=4.5)
    for s in ax.spines.values():
        s.set_linewidth(1.6)
    ax.set_xlabel('Wavelength', family='DejaVu Serif', fontweight='bold', fontsize=11, labelpad=1)
    ax.set_ylabel('Intensity', family='DejaVu Serif', fontweight='bold', fontsize=11)
    ax.yaxis.set_label_coords(-0.148, 0.5)

fig.savefig('out.png', dpi=100)
